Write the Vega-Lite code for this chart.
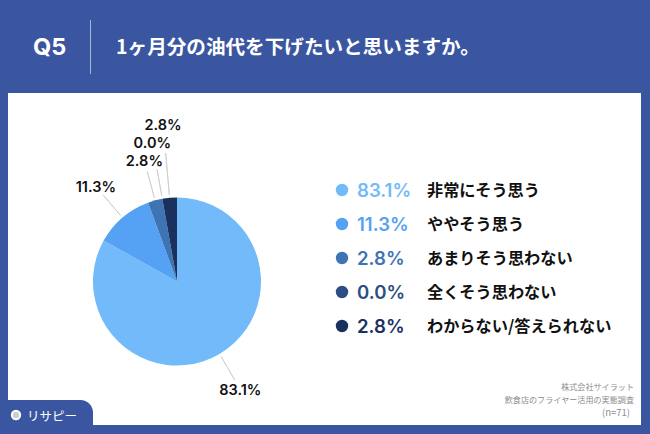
{
  "$schema": "https://vega.github.io/schema/vega-lite/v6.json",
  "width": 650,
  "height": 434,
  "padding": 0,
  "autosize": {"type": "fit", "contains": "padding"},
  "background": "#3b56a1",
  "config": {
    "view": {"stroke": null},
    "axis": {"disable": true},
    "text": {"font": "Noto Sans CJK JP", "baseline": "middle"}
  },
  "datasets": {
    "responses": [
      {"no": 1, "answer": "非常にそう思う", "share": 0.831, "mid": 0.4155},
      {"no": 2, "answer": "ややそう思う", "share": 0.113, "mid": 0.8875},
      {"no": 3, "answer": "あまりそう思わない", "share": 0.028, "mid": 0.958},
      {"no": 4, "answer": "全くそう思わない", "share": 0.0, "mid": 0.972},
      {"no": 5, "answer": "わからない/答えられない", "share": 0.028, "mid": 0.986}
    ]
  },
  "resolve": {"scale": {"y": "independent"}},
  "layer": [
    {
      "layer": [
        {
          "data": {"values": [{"part": "panel"}]},
          "mark": {"type": "rect", "fill": "#ffffff"},
          "encoding": {
            "x": {"datum": 8, "type": "quantitative", "scale": {"domain": [0, 650], "nice": false, "zero": false}},
            "x2": {"datum": 641},
            "y": {"datum": 93, "type": "quantitative", "scale": {"domain": [0, 434], "nice": false, "zero": false, "reverse": true}},
            "y2": {"datum": 425}
          }
        },
        {
          "data": {"values": [{"part": "tab"}]},
          "mark": {"type": "rect", "fill": "#3b56a1", "cornerRadiusTopRight": 24},
          "encoding": {
            "x": {"datum": 8, "type": "quantitative"},
            "x2": {"datum": 93},
            "y": {"datum": 400, "type": "quantitative"},
            "y2": {"datum": 425}
          }
        },
        {
          "data": {"values": [{"part": "divider"}]},
          "mark": {"type": "rule", "stroke": "#aab6d6", "strokeWidth": 1},
          "encoding": {
            "x": {"datum": 90.5, "type": "quantitative"},
            "y": {"datum": 20, "type": "quantitative"},
            "y2": {"datum": 74}
          }
        },
        {
          "data": {"values": [{"t": "Q5"}]},
          "mark": {"type": "text", "font": "Inter", "fontSize": 23.5, "fontWeight": 700, "fill": "#ffffff", "align": "left"},
          "encoding": {
            "x": {"datum": 33, "type": "quantitative"},
            "y": {"datum": 47.5, "type": "quantitative"},
            "text": {"field": "t"}
          }
        },
        {
          "data": {"values": [{"t": "1ヶ月分の油代を下げたいと思いますか。"}]},
          "mark": {"type": "text", "fontSize": 19.6, "fontWeight": 700, "fill": "#ffffff", "align": "left"},
          "encoding": {
            "x": {"datum": 116, "type": "quantitative"},
            "y": {"datum": 47.5, "type": "quantitative"},
            "text": {"field": "t"}
          }
        },
        {
          "data": {"values": [{"t": "リサピー"}]},
          "mark": {"type": "text", "fontSize": 12.5, "fontWeight": 400, "fill": "#ffffff", "align": "left"},
          "encoding": {
            "x": {"datum": 27, "type": "quantitative"},
            "y": {"datum": 416.5, "type": "quantitative"},
            "text": {"field": "t"}
          }
        },
        {
          "data": {"values": [{"t": "logo"}]},
          "mark": {"type": "point", "shape": "circle", "size": 70, "filled": true, "fill": "#c9ced8", "stroke": "#ffffff", "strokeWidth": 2, "opacity": 1},
          "encoding": {
            "x": {"datum": 16, "type": "quantitative"},
            "y": {"datum": 415, "type": "quantitative"}
          }
        },
        {
          "data": {"values": [{"t": "株式会社サイラット"}]},
          "mark": {"type": "text", "fontSize": 8.1, "fill": "#8c8c8c", "align": "right"},
          "encoding": {
            "x": {"datum": 634, "type": "quantitative"},
            "y": {"datum": 388, "type": "quantitative"},
            "text": {"field": "t"}
          }
        },
        {
          "data": {"values": [{"t": "飲食店のフライヤー活用の実態調査"}]},
          "mark": {"type": "text", "fontSize": 8.1, "fill": "#8c8c8c", "align": "right"},
          "encoding": {
            "x": {"datum": 634, "type": "quantitative"},
            "y": {"datum": 400.5, "type": "quantitative"},
            "text": {"field": "t"}
          }
        },
        {
          "data": {"values": [{"t": "(n=71)"}]},
          "mark": {"type": "text", "fontSize": 9.5, "fill": "#8c8c8c", "align": "right"},
          "encoding": {
            "x": {"datum": 630, "type": "quantitative"},
            "y": {"datum": 413, "type": "quantitative"},
            "text": {"field": "t"}
          }
        },
        {
          "data": {"name": "responses"},
          "transform": [{"filter": "datum.no < 5"}],
          "mark": {"type": "arc", "innerRadius": 87, "outerRadius": 114, "stroke": "#cccccc", "strokeWidth": 0.8},
          "encoding": {
            "x": {"datum": 177, "type": "quantitative"},
            "y": {"datum": 281.5, "type": "quantitative"},
            "theta": {"field": "mid", "type": "quantitative", "stack": null, "scale": {"domain": [0, 1]}},
            "theta2": {"field": "mid"}
          }
        },
        {
          "data": {"name": "responses"},
          "transform": [{"filter": "datum.no == 5"}],
          "mark": {"type": "arc", "innerRadius": 87, "outerRadius": 129, "stroke": "#cccccc", "strokeWidth": 0.8},
          "encoding": {
            "x": {"datum": 177, "type": "quantitative"},
            "y": {"datum": 281.5, "type": "quantitative"},
            "theta": {"field": "mid", "type": "quantitative", "stack": null, "scale": {"domain": [0, 1]}},
            "theta2": {"field": "mid"}
          }
        },
        {
          "data": {"name": "responses"},
          "mark": {"type": "arc", "outerRadius": 84},
          "encoding": {
            "x": {"datum": 177, "type": "quantitative"},
            "y": {"datum": 281.5, "type": "quantitative"},
            "theta": {"field": "share", "type": "quantitative", "stack": true, "scale": {"domain": [0, 1]}},
            "order": {"field": "no"},
            "color": {
              "field": "answer",
              "legend": null,
              "scale": {
                "domain": ["非常にそう思う", "ややそう思う", "あまりそう思わない", "全くそう思わない", "わからない/答えられない"],
                "range": ["#72baf9", "#55a1f3", "#3e74b4", "#2b4f85", "#1a315f"]
              }
            }
          }
        },
        {
          "data": {"name": "responses"},
          "transform": [{"filter": "datum.no < 4"}],
          "mark": {"type": "text", "font": "Inter", "fontSize": 14.5, "fontWeight": 600, "fill": "#111111", "align": "center", "radius": 125, "dy": 1.5},
          "encoding": {
            "x": {"datum": 177, "type": "quantitative"},
            "y": {"datum": 281.5, "type": "quantitative"},
            "theta": {"field": "mid", "type": "quantitative", "stack": null, "scale": {"domain": [0, 1]}},
            "text": {"field": "share", "type": "quantitative", "format": ".1%"}
          }
        },
        {
          "data": {"name": "responses"},
          "transform": [{"filter": "datum.no == 4"}],
          "mark": {"type": "text", "font": "Inter", "fontSize": 14.5, "fontWeight": 600, "fill": "#111111", "align": "center", "radius": 141, "dy": 1.5},
          "encoding": {
            "x": {"datum": 177, "type": "quantitative"},
            "y": {"datum": 281.5, "type": "quantitative"},
            "theta": {"field": "mid", "type": "quantitative", "stack": null, "scale": {"domain": [0, 1]}},
            "text": {"field": "share", "type": "quantitative", "format": ".1%"}
          }
        },
        {
          "data": {"name": "responses"},
          "transform": [{"filter": "datum.no == 5"}],
          "mark": {"type": "text", "font": "Inter", "fontSize": 14.5, "fontWeight": 600, "fill": "#111111", "align": "center", "radius": 158, "dy": 1.5},
          "encoding": {
            "x": {"datum": 177, "type": "quantitative"},
            "y": {"datum": 281.5, "type": "quantitative"},
            "theta": {"field": "mid", "type": "quantitative", "stack": null, "scale": {"domain": [0, 1]}},
            "text": {"field": "share", "type": "quantitative", "format": ".1%"}
          }
        }
      ]
    },
    {
      "data": {"name": "responses"},
      "encoding": {
        "y": {
          "field": "answer",
          "type": "ordinal",
          "scale": {
            "type": "point",
            "padding": 0,
            "domain": ["非常にそう思う", "ややそう思う", "あまりそう思わない", "全くそう思わない", "わからない/答えられない"],
            "range": [190, 326]
          }
        },
        "color": {"field": "answer", "legend": null}
      },
      "layer": [
        {
          "mark": {"type": "point", "shape": "circle", "filled": true, "size": 154, "opacity": 1},
          "encoding": {
            "x": {"datum": 342, "type": "quantitative"},
            "color": {
              "field": "answer",
              "legend": null,
              "scale": {"range": ["#80bdfa", "#5aa2f5", "#4274b3", "#2b4e85", "#1b315f"]}
            }
          }
        },
        {
          "mark": {"type": "text", "font": "Inter", "fontSize": 18.6, "fontWeight": 600, "align": "left", "dy": 0.5},
          "encoding": {
            "x": {"datum": 357, "type": "quantitative"},
            "text": {"field": "share", "type": "quantitative", "format": ".1%"}
          }
        },
        {
          "mark": {"type": "text", "fontSize": 16.2, "fontWeight": 700, "fill": "#111111", "align": "left", "dy": 0.5},
          "encoding": {
            "x": {"datum": 427, "type": "quantitative"},
            "text": {"field": "answer"},
            "color": {"value": "#111111"}
          }
        }
      ]
    }
  ]
}
